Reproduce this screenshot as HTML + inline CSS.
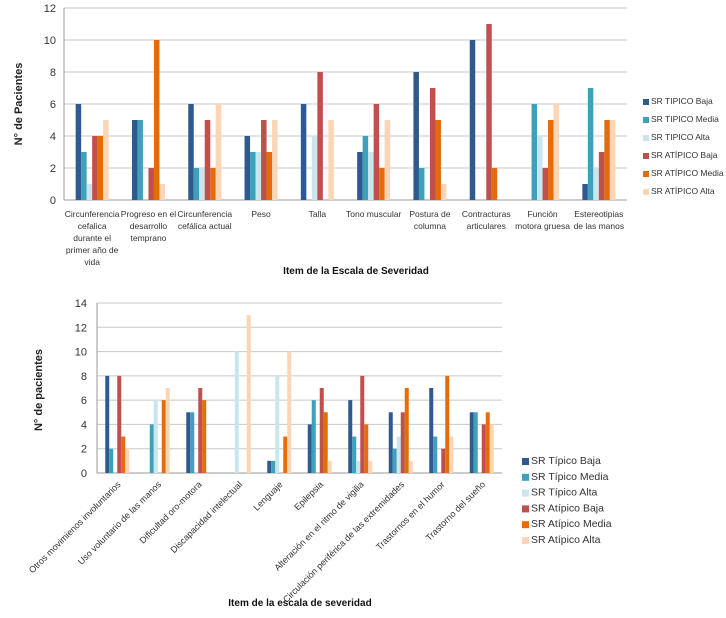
<!DOCTYPE html>
<html><head><meta charset="utf-8"><style>
body{margin:0;background:#fff;font-family:"Liberation Sans",sans-serif}
svg{display:block}
</style></head><body>
<svg id="s" width="726" height="618"></svg>
<script>
const colors=["#2f5a8f","#3ea0ba","#c9e6ef","#c0504d","#e46c0a","#fcd5b4"];
const topCats=[["Circunferencia","cefalica","durante el","primer año de","vida"],["Progreso en el","desarrollo","temprano"],["Circunferencia","cefálica actual"],["Peso"],["Talla"],["Tono muscular"],["Postura de","columna"],["Contracturas","articulares"],["Función","motora gruesa"],["Estereotipias","de las manos"]];
const topSeriesNames=["SR TIPICO Baja","SR TIPICO Media","SR TIPICO Alta","SR ATÍPICO Baja","SR ATÍPICO Media","SR ATÍPICO Alta"];
const topTipBaja=[6,5,6,4,6,3,8,10,0,1];
const topTipMedia=[3,5,2,3,0,4,2,0,6,7];
const topTipAlta=[1,0,2,3,4,3,0,0,4,2];
const topAtipBaja=[4,2,5,5,8,6,7,11,2,3];
const topAtipMedia=[4,10,2,3,0,2,5,2,5,5];
const topAtipAlta=[5,1,6,5,5,5,1,0,6,5];
const topTicks=[0,2,4,6,8,10,12];
const botCats=["Otros movimienos involuntarios","Uso voluntario de las manos","Dificultad oro-motora","Discapacidad intelectual","Lenguaje","Epilepsia","Alteración en el ritmo de vigilia","Circulación periférica de las extremidades","Trastornos en el humor","Trastorno del sueño"];
const botSeriesNames=["SR Típico Baja","SR Típico Media","SR Típico Alta","SR Atípico Baja","SR Atípico Media","SR Atípico Alta"];
const botTipBaja=[8,0,5,0,1,4,6,5,7,5];
const botTipMedia=[2,4,5,0,1,6,3,2,3,5];
const botTipAlta=[0,6,0,10,8,0,1,3,0,0];
const botAtipBaja=[8,0,7,0,0,7,8,5,2,4];
const botAtipMedia=[3,6,6,0,3,5,4,7,8,5];
const botAtipAlta=[2,7,0,13,10,1,1,1,3,4];
const botTicks=[0,2,4,6,8,10,12,14];

const NS="http://www.w3.org/2000/svg";
const svg=document.getElementById('s');
function el(t,a,txt){const e=document.createElementNS(NS,t);for(const k in a)e.setAttribute(k,a[k]);if(txt!==undefined)e.textContent=txt;svg.appendChild(e);return e;}

function chart(o){
  const y=v=>o.y0-(v-o.min)/(o.max-o.min)*(o.y0-o.y1);
  const cw=(o.x1-o.x0)/o.cats.length;
  o.ticks.forEach(t=>{
    const g=el('line',{x1:o.x0,x2:o.x1,y1:y(t),y2:y(t),stroke:t===0?'#999':'#c8c8c8','stroke-width':1});
    
    
    const l=el('text',{x:o.x0-o.tickGap,y:y(t)+4,'text-anchor':'end','font-size':o.tickFs,fill:'#333'},t);
    
    
  });
  const ax=el('line',{x1:o.x0,x2:o.x0,y1:o.y1,y2:o.y0,stroke:'#999'});
  
  
  o.series.forEach((s,si)=>{
    s.forEach((v,ci)=>{
      if(v<=0)return;
      const bx=o.x0+ci*cw+(cw-o.bw*6)/2+si*o.bw;
      const r=el('rect',{x:bx,y:y(v),width:o.bw,height:y(0)-y(v),fill:colors[si]});
      
      
    });
  });
  o.cats.forEach((c,ci)=>{
    const cx=o.x0+(ci+0.5)*cw;
    if(o.rot){
      const t=el('text',{x:cx+4,y:o.y0+12,'text-anchor':'end','font-size':9,fill:'#333',transform:`rotate(-45 ${cx+4} ${o.y0+12})`},c);
      
      
    }else{
      c.forEach((ln,li)=>{
        const t=el('text',{x:cx,y:o.y0+17+li*12,'text-anchor':'middle','font-size':8.5,fill:'#333'},ln);
        
        
      });
    }
  });
  o.names.forEach((n,i)=>{
    const ly=o.ly+i*o.lsp;
    const r=el('rect',{x:o.lx,y:ly-o.lsq+1,width:o.lsq,height:o.lsq,fill:colors[i]});
    
    
    const t=el('text',{x:o.lx+o.lsq+2,y:ly,'font-size':o.lfs,fill:'#333'},n);
    
    
  });
}
chart({p:'top-',x0:64,x1:627,y0:200,y1:8,min:0,max:12,ticks:topTicks,cats:topCats,bw:5.5,tickGap:8,tickFs:11,
 series:[topTipBaja,topTipMedia,topTipAlta,topAtipBaja,topAtipMedia,topAtipAlta],names:topSeriesNames,lx:643,ly:104,lsp:18,lsq:6,lfs:8.5,rot:false});
chart({p:'bottom-',x0:97,x1:502,y0:473,y1:303,min:0,max:14,ticks:botTicks,cats:botCats,bw:4,tickGap:10,tickFs:11,
 series:[botTipBaja,botTipMedia,botTipAlta,botAtipBaja,botAtipMedia,botAtipAlta],names:botSeriesNames,lx:522,ly:464,lsp:15.8,lsq:7,lfs:10.5,rot:true});
let t;
t=el('text',{x:22,y:104,'text-anchor':'middle','font-size':11,'font-weight':'bold',fill:'#222',transform:'rotate(-90 22 104)'},'N° de Pacientes');


t=el('text',{x:356,y:274,'text-anchor':'middle','font-size':10,'font-weight':'bold',fill:'#111'},'Item de  la Escala de Severidad');


t=el('text',{x:42,y:390,'text-anchor':'middle','font-size':11,'font-weight':'bold',fill:'#222',transform:'rotate(-90 42 390)'},'N° de pacientes');


t=el('text',{x:300,y:606,'text-anchor':'middle','font-size':10,'font-weight':'bold',fill:'#111'},'Item de la escala de severidad');


</script>
</body></html>
